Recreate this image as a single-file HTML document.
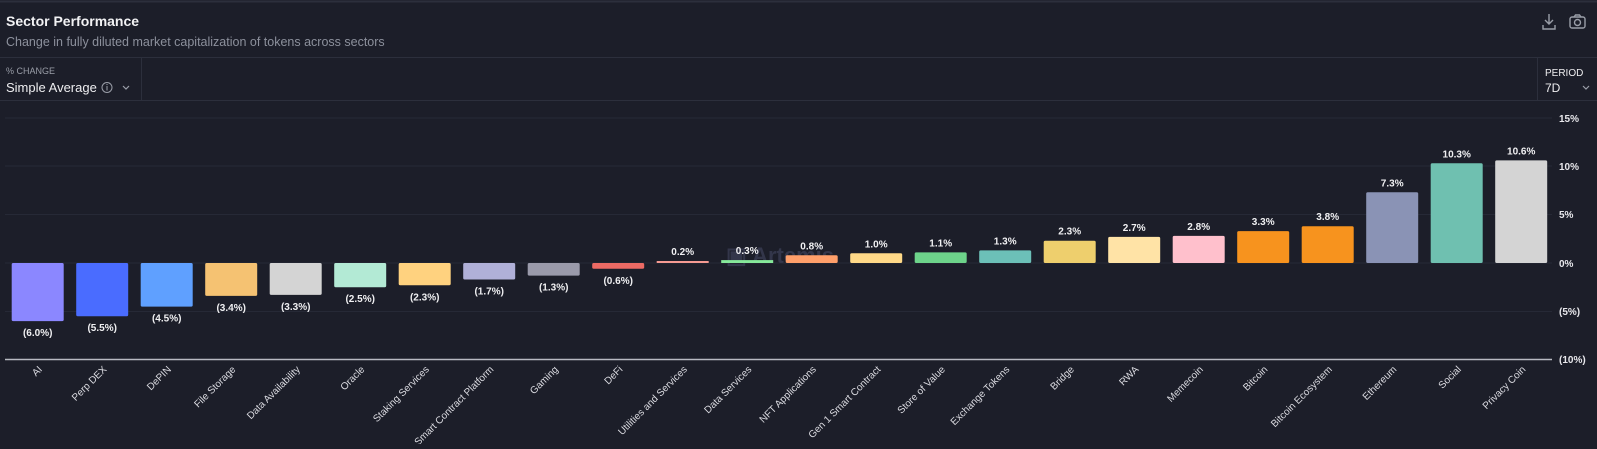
<!DOCTYPE html>
<html><head><meta charset="utf-8"><style>
html,body{margin:0;padding:0;background:#1c1e29;}
body{width:1597px;height:444px;overflow:hidden;font-family:"Liberation Sans",sans-serif;}
</style></head><body>
<svg width="1597" height="444" xmlns="http://www.w3.org/2000/svg" font-family="Liberation Sans, sans-serif">
<rect width="1597" height="444" fill="#1c1e29"/>
<line x1="0" y1="1.5" x2="1597" y2="1.5" stroke="#2c2f3c" stroke-width="2"/>
<text x="6" y="26" fill="#f2f2f4" font-size="14" font-weight="bold">Sector Performance</text>
<text x="6" y="46" fill="#8c909c" font-size="12.5">Change in fully diluted market capitalization of tokens across sectors</text>
<line x1="0" y1="57.5" x2="1597" y2="57.5" stroke="#2c2f3c"/>
<line x1="0" y1="100.5" x2="1597" y2="100.5" stroke="#2c2f3c"/>
<line x1="141.5" y1="57" x2="141.5" y2="100" stroke="#2c2f3c"/>
<line x1="1537.5" y1="57" x2="1537.5" y2="100" stroke="#2c2f3c"/>
<text x="6" y="74" fill="#9a9ea8" font-size="9">% CHANGE</text>
<text x="6" y="92" fill="#eeeef0" font-size="13">Simple Average</text>
<circle cx="107" cy="87.5" r="5" fill="none" stroke="#9a9ea8" stroke-width="1"/>
<line x1="107" y1="86" x2="107" y2="90.5" stroke="#9a9ea8"/>
<circle cx="107" cy="84.5" r="0.6" fill="#9a9ea8"/>
<polyline points="123,86 126,89 129,86" fill="none" stroke="#9a9ea8" stroke-width="1.2"/>
<text x="1545" y="76" fill="#eeeef0" font-size="10">PERIOD</text>
<text x="1545" y="92" fill="#eeeef0" font-size="12">7D</text>
<polyline points="1583,86 1586,89 1589,86" fill="none" stroke="#9a9ea8" stroke-width="1.2"/>
<g fill="none" stroke="#9a9ea8" stroke-width="1.4">
<path d="M1549,14 v10 M1545,20 l4,4 l4,-4 M1543,25 v4 h12 v-4"/>
<rect x="1570" y="17" width="15" height="11" rx="2"/>
<path d="M1574,17 l1.5,-2 h4 l1.5,2"/>
<circle cx="1577.5" cy="22.5" r="3"/>
</g>
<g stroke="#262936" stroke-width="1">
<line x1="5" y1="118" x2="1552" y2="118"/>
<line x1="5" y1="166" x2="1552" y2="166"/>
<line x1="5" y1="214.5" x2="1552" y2="214.5"/>
<line x1="5" y1="263" x2="1552" y2="263"/>
<line x1="5" y1="311.5" x2="1552" y2="311.5"/>
</g>
<line x1="5" y1="359.5" x2="1552" y2="359.5" stroke="#b8bac2" stroke-width="1.5"/>
<g fill="#e8e8ec" font-size="10" font-weight="bold">
<text x="1559" y="122">15%</text>
<text x="1559" y="170">10%</text>
<text x="1559" y="218">5%</text>
<text x="1559" y="267">0%</text>
<text x="1559" y="315">(5%)</text>
<text x="1559" y="363">(10%)</text>
</g>
<text x="780" y="263" fill="#33364a" font-size="22" font-weight="bold" text-anchor="middle">▣ Artemis</text>
<g>
<rect x="11.7" y="263" width="52" height="58.1" rx="1.5" fill="#8b87ff"/>
<rect x="76.2" y="263" width="52" height="53.2" rx="1.5" fill="#4a6cff"/>
<rect x="140.7" y="263" width="52" height="43.6" rx="1.5" fill="#5fa0ff"/>
<rect x="205.2" y="263" width="52" height="32.9" rx="1.5" fill="#f5c272"/>
<rect x="269.7" y="263" width="52" height="31.9" rx="1.5" fill="#d4d4d4"/>
<rect x="334.2" y="263" width="52" height="24.2" rx="1.5" fill="#b3ead5"/>
<rect x="398.7" y="263" width="52" height="22.3" rx="1.5" fill="#ffd27f"/>
<rect x="463.2" y="263" width="52" height="16.5" rx="1.5" fill="#b0b0d8"/>
<rect x="527.7" y="263" width="52" height="12.6" rx="1.5" fill="#9a9aaa"/>
<rect x="592.2" y="263" width="52" height="5.8" rx="1.5" fill="#ec6a64"/>
<rect x="656.7" y="261" width="52" height="2" fill="#f59a92"/>
<rect x="721.2" y="260.1" width="52" height="2.9" fill="#86e89a"/>
<rect x="785.7" y="255.3" width="52" height="7.7" rx="1.5" fill="#ff9f6a"/>
<rect x="850.2" y="253.3" width="52" height="9.7" rx="1.5" fill="#ffd988"/>
<rect x="914.7" y="252.4" width="52" height="10.6" rx="1.5" fill="#6dd38a"/>
<rect x="979.2" y="250.4" width="52" height="12.6" rx="1.5" fill="#6cc0b8"/>
<rect x="1043.7" y="240.7" width="52" height="22.3" rx="1.5" fill="#eecf6d"/>
<rect x="1108.2" y="236.9" width="52" height="26.1" rx="1.5" fill="#ffe3a6"/>
<rect x="1172.7" y="235.9" width="52" height="27.1" rx="1.5" fill="#ffc0cc"/>
<rect x="1237.2" y="231.1" width="52" height="31.9" rx="1.5" fill="#f7931e"/>
<rect x="1301.7" y="226.2" width="52" height="36.8" rx="1.5" fill="#f7931e"/>
<rect x="1366.2" y="192.3" width="52" height="70.7" rx="1.5" fill="#8a93b5"/>
<rect x="1430.7" y="163.3" width="52" height="99.7" rx="1.5" fill="#6fc0b0"/>
<rect x="1495.2" y="160.4" width="52" height="102.6" rx="1.5" fill="#d4d4d4"/>
</g>
<g fill="#f0f0f2" font-size="10" font-weight="bold" text-anchor="middle">
<text x="37.7" y="336">(6.0%)</text>
<text x="102.2" y="331">(5.5%)</text>
<text x="166.7" y="321.6">(4.5%)</text>
<text x="231.2" y="311">(3.4%)</text>
<text x="295.7" y="310">(3.3%)</text>
<text x="360.2" y="302.2">(2.5%)</text>
<text x="424.7" y="300.3">(2.3%)</text>
<text x="489.2" y="294.5">(1.7%)</text>
<text x="553.7" y="290.6">(1.3%)</text>
<text x="618.2" y="283.8">(0.6%)</text>
<text x="682.7" y="255">0.2%</text>
<text x="747.2" y="254">0.3%</text>
<text x="811.7" y="249.3">0.8%</text>
<text x="876.2" y="247.3">1.0%</text>
<text x="940.7" y="246.4">1.1%</text>
<text x="1005.2" y="244.4">1.3%</text>
<text x="1069.7" y="234.7">2.3%</text>
<text x="1134.2" y="230.9">2.7%</text>
<text x="1198.7" y="229.9">2.8%</text>
<text x="1263.2" y="225.1">3.3%</text>
<text x="1327.7" y="220.2">3.8%</text>
<text x="1392.2" y="186.3">7.3%</text>
<text x="1456.7" y="157.3">10.3%</text>
<text x="1521.2" y="154.4">10.6%</text>
</g>
<g fill="#dcdce2" font-size="10" text-anchor="end">
<text x="42.7" y="370" transform="rotate(-45 42.7 370)">AI</text>
<text x="107.2" y="370" transform="rotate(-45 107.2 370)">Perp DEX</text>
<text x="171.7" y="370" transform="rotate(-45 171.7 370)">DePIN</text>
<text x="236.2" y="370" transform="rotate(-45 236.2 370)">File Storage</text>
<text x="300.7" y="370" transform="rotate(-45 300.7 370)">Data Availability</text>
<text x="365.2" y="370" transform="rotate(-45 365.2 370)">Oracle</text>
<text x="429.7" y="370" transform="rotate(-45 429.7 370)">Staking Services</text>
<text x="494.2" y="370" transform="rotate(-45 494.2 370)">Smart Contract Platform</text>
<text x="558.7" y="370" transform="rotate(-45 558.7 370)">Gaming</text>
<text x="623.2" y="370" transform="rotate(-45 623.2 370)">DeFi</text>
<text x="687.7" y="370" transform="rotate(-45 687.7 370)">Utilities and Services</text>
<text x="752.2" y="370" transform="rotate(-45 752.2 370)">Data Services</text>
<text x="816.7" y="370" transform="rotate(-45 816.7 370)">NFT Applications</text>
<text x="881.2" y="370" transform="rotate(-45 881.2 370)">Gen 1 Smart Contract</text>
<text x="945.7" y="370" transform="rotate(-45 945.7 370)">Store of Value</text>
<text x="1010.2" y="370" transform="rotate(-45 1010.2 370)">Exchange Tokens</text>
<text x="1074.7" y="370" transform="rotate(-45 1074.7 370)">Bridge</text>
<text x="1139.2" y="370" transform="rotate(-45 1139.2 370)">RWA</text>
<text x="1203.7" y="370" transform="rotate(-45 1203.7 370)">Memecoin</text>
<text x="1268.2" y="370" transform="rotate(-45 1268.2 370)">Bitcoin</text>
<text x="1332.7" y="370" transform="rotate(-45 1332.7 370)">Bitcoin Ecosystem</text>
<text x="1397.2" y="370" transform="rotate(-45 1397.2 370)">Ethereum</text>
<text x="1461.7" y="370" transform="rotate(-45 1461.7 370)">Social</text>
<text x="1526.2" y="370" transform="rotate(-45 1526.2 370)">Privacy Coin</text>
</g>
</svg>
</body></html>
